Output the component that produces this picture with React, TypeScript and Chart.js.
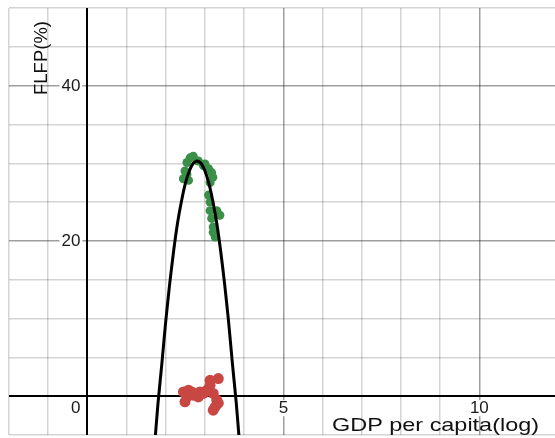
import React, { useEffect, useRef } from "react";
import { Chart, registerables } from "chart.js";

Chart.register(...registerables);

// Fitted curve
const curveX = [1.72, 1.8, 1.9, 2.0, 2.1, 2.2, 2.3, 2.4, 2.5, 2.6, 2.7, 2.8, 2.9, 3.0, 3.1, 3.2, 3.3, 3.4, 3.5, 3.6, 3.7, 3.8, 3.88];
const curveY = [-6, -1.0, 4.2, 9.7, 14.5, 18.7, 22.3, 25.1, 27.4, 29.0, 30.0, 30.3, 30.0, 29.0, 27.4, 25.1, 22.3, 18.7, 14.5, 9.7, 4.2, -1.0, -6];

// Green observations
const greenX = [2.62, 2.54, 2.45, 2.58, 2.54, 2.49, 2.7, 2.83, 2.96, 3.0, 3.09, 3.17, 3.2, 3.13, 3.09, 3.13, 3.13, 3.3, 3.38, 3.17, 3.21, 3.21, 3.26];
const greenY = [30.7, 30.1, 28.0, 27.8, 28.6, 29.0, 30.9, 30.3, 29.7, 29.9, 29.3, 28.8, 28.2, 27.5, 25.9, 25.0, 23.9, 23.9, 23.3, 22.9, 21.8, 21.1, 20.5];

// Red observations
const redX = [2.45, 2.58, 2.66, 2.54, 2.49, 2.7, 2.83, 2.87, 2.96, 3.05, 3.13, 3.13, 3.34, 3.21, 3.3, 3.26, 3.21, 3.34];
const redY = [0.55, 0.77, 0.55, -0.1, -0.73, 0.13, -0.1, 0.55, 0.35, 0.77, 1.4, 2.05, 2.27, 0.35, -0.5, -1.37, -1.8, -0.9];

// Tick labels
const xTickLabels = [0, 5, 10];
const yTickLabels = [20, 40];
const xTitle = "GDP per capita(log)";
const yTitle = "FLFP(%)";

const FONT = '"Liberation Sans", Arial, sans-serif';

const labelPlugin = {
  id: "desmosLabels",
  afterDatasetsDraw(chart: any) {
    const ctx = chart.ctx as CanvasRenderingContext2D;
    const xs = chart.scales.x;
    const ys = chart.scales.y;
    const x0 = xs.getPixelForValue(0);
    const y0 = ys.getPixelForValue(0);
    ctx.save();
    ctx.font = `17px ${FONT}`;
    ctx.textBaseline = "middle";
    // y tick labels
    for (const v of yTickLabels) {
      const t = String(v);
      const w = ctx.measureText(t).width;
      const px = x0 - 7 - w;
      const py = ys.getPixelForValue(v);
      ctx.fillStyle = "#ffffff";
      ctx.fillRect(px - 2, py - 8, w + 4, 16);
      ctx.fillStyle = "#1a1a1a";
      ctx.textAlign = "left";
      ctx.fillText(t, px, py + 0.5);
    }
    // x tick labels
    for (const v of xTickLabels) {
      const t = String(v);
      const w = ctx.measureText(t).width;
      let px: number;
      if (v === 0) px = x0 - 7 - w;
      else px = xs.getPixelForValue(v) - w / 2;
      const py = y0 + 12;
      ctx.fillStyle = "#ffffff";
      ctx.fillRect(px - 2, py - 8, w + 4, 16);
      ctx.fillStyle = "#1a1a1a";
      ctx.textAlign = "left";
      ctx.fillText(t, px, py + 0.5);
    }
    // x title
    ctx.font = `19px ${FONT}`;
    ctx.textBaseline = "alphabetic";
    ctx.textAlign = "left";
    ctx.fillStyle = "#111111";
    const tw = ctx.measureText(xTitle).width;
    const target = 207;
    ctx.save();
    ctx.translate(332, 431);
    ctx.scale(target / tw, 1);
    ctx.fillText(xTitle, 0, 0);
    ctx.restore();
    // y title
    ctx.font = `18.5px ${FONT}`;
    ctx.save();
    ctx.translate(47, 95);
    ctx.rotate(-Math.PI / 2);
    ctx.fillText(yTitle, 0, 0);
    ctx.restore();
    ctx.restore();
  },
};

const onlyIntegers = (axis: any) => {
  axis.ticks = axis.ticks.filter((t: any) => Number.isInteger(t.value));
};

export default function App() {
  const ref = useRef<HTMLCanvasElement | null>(null);
  useEffect(() => {
    if (!ref.current) return;
    const chart = new Chart(ref.current, {
      type: "scatter",
      data: {
        datasets: [
          {
            type: "line",
            label: "fit",
            data: curveX.map((x, i) => ({ x, y: curveY[i] })),
            borderColor: "#000000",
            borderWidth: 3,
            pointRadius: 0,
            tension: 0.2,
            fill: false,
          } as any,
          {
            label: "green",
            data: greenX.map((x, i) => ({ x, y: greenY[i] })),
            backgroundColor: "#3a9048",
            borderWidth: 0,
            pointRadius: 4.5,
          },
          {
            label: "red",
            data: redX.map((x, i) => ({ x, y: redY[i] })),
            backgroundColor: "#c94743",
            borderWidth: 0,
            pointRadius: 5.5,
          },
        ],
      },
      options: {
        responsive: false,
        animation: false,
        devicePixelRatio: 1,
        layout: { autoPadding: false, padding: { left: 9, top: 8, right: 0, bottom: 3 } },
        plugins: { legend: { display: false }, tooltip: { enabled: false } },
        scales: {
          x: {
            type: "linear",
            min: -2,
            max: 11.93,
            afterBuildTicks: onlyIntegers,
            ticks: { display: false, stepSize: 1 },
            border: { display: false },
            grid: {
              drawTicks: false,
              color: (c: any) =>
                c.tick.value === 0 ? "#000000" : c.tick.value % 5 === 0 ? "rgba(0,0,0,0.38)" : "rgba(0,0,0,0.17)",
              lineWidth: (c: any) => (c.tick.value === 0 ? 2 : 1.5),
            },
          },
          y: {
            type: "linear",
            min: -5,
            max: 50,
            afterBuildTicks: onlyIntegers,
            ticks: { display: false, stepSize: 5 },
            border: { display: false },
            grid: {
              drawTicks: false,
              color: (c: any) =>
                c.tick.value === 0 ? "#000000" : c.tick.value % 20 === 0 ? "rgba(0,0,0,0.38)" : "rgba(0,0,0,0.17)",
              lineWidth: (c: any) => (c.tick.value === 0 ? 2 : 1.5),
            },
          },
        },
      },
      plugins: [labelPlugin],
    });
    return () => chart.destroy();
  }, []);
  return (
    <div style={{ position: "fixed", left: 0, top: 0, width: 555, height: 438, background: "#ffffff" }}>
      <canvas ref={ref} width={555} height={438} style={{ display: "block" }} />
    </div>
  );
}
